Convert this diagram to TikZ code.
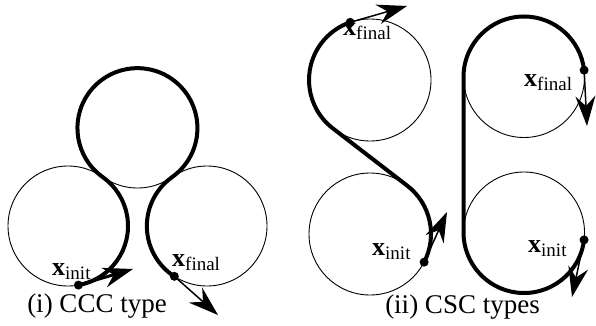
\documentclass[tikz,border=0pt]{standalone}
\usepackage{fontspec}
\setmainfont{Liberation Serif}
\usetikzlibrary{arrows.meta,calc}
\newcommand{\lsub}[1]{\raisebox{-4pt}{\fontsize{19}{19}\selectfont #1}}
\tikzset{
  thincirc/.style={line width=0.9pt},
  thickpath/.style={line width=4pt},
  arr/.style={line width=1.5pt,-{Stealth[length=30pt,width=20pt,inset=10pt]}},
  dotnode/.style={circle,fill=black,inner sep=0pt,minimum size=9pt},
  lbl/.style={font=\fontsize{26}{30}\selectfont,inner sep=0pt,anchor=base west},
  captext/.style={font=\fontsize{27}{32}\selectfont,inner sep=0pt,anchor=base}
}
\begin{document}
\begin{tikzpicture}[x=1pt,y=1pt]
\useasboundingbox (0,0) rectangle (596,325);
% ---------- CCC ----------
\coordinate (cL) at (68,99);
\coordinate (cT) at (137.5,197);
\coordinate (cR) at (207,99);
\draw[thincirc] (cL) circle[radius=60];
\draw[thincirc] (cT) circle[radius=60];
\draw[thincirc] (cR) circle[radius=60];
\coordinate (ci) at ($(cL)+(-80:60)$);
\coordinate (cf) at ($(cR)+(237:60)$);
\draw[thickpath] (ci) arc[start angle=-80,end angle=54.65,radius=60]
  arc[start angle=234.65,end angle=-54.65,radius=60]
  arc[start angle=125.35,end angle=237,radius=60];
\coordinate (cit) at (133,56);
\coordinate (cft) at (218,10);
\node[dotnode] (dci) at (ci) {};
\node[dotnode] (dcf) at (cf) {};
\draw[arr,line width=3pt] (dci.center) -- (cit);
\draw[arr] (dcf.center) -- (cft);
\node[lbl] (lci) at (52,50) {\textbf{x}\lsub{init}};
\node[lbl] (lcf) at (172,59) {\textbf{x}\lsub{final}};
\node[captext] (cap1) at (97,13) {(i) CCC type};
% ---------- CSC 1 ----------
\coordinate (u1) at (370,245);
\coordinate (d1) at (370,91);
\draw[thincirc] (u1) circle[radius=61];
\draw[thincirc] (d1) circle[radius=61];
\coordinate (si1) at ($(d1)+(-27.5:61)$);
\coordinate (sf1) at ($(u1)+(109:61)$);
\coordinate (q1) at ($(u1)+(232.39:61)$);
\draw[thickpath] (si1) arc[start angle=-27.5,end angle=52.39,radius=61]
  -- (q1) arc[start angle=232.39,end angle=109,radius=61];
\coordinate (s1it) at (447,113);
\coordinate (s1ft) at (407,319);
\node[dotnode] (ds1i) at (si1) {};
\node[dotnode] (ds1f) at (sf1) {};
\draw[arr] (ds1i.center) -- (s1it);
\draw[arr] (ds1f.center) -- (s1ft);
\node[lbl] (ls1i) at (372,70) {\textbf{x}\lsub{init}};
\node[lbl] (ls1f) at (343,290) {\textbf{x}\lsub{final}};
% ---------- CSC 2 ----------
\coordinate (u2) at (524,248);
\coordinate (d2) at (524,92.5);
\draw[thincirc] (u2) circle[radius=60.5];
\draw[thincirc] (d2) circle[radius=60.5];
\coordinate (si2) at ($(d2)+(-7:60.5)$);
\coordinate (sf2) at ($(u2)+(6.5:60.5)$);
\coordinate (q2) at ($(u2)+(180:60.5)$);
\draw[thickpath] (si2) arc[start angle=-7,end angle=-180,radius=60.5]
  -- (q2) arc[start angle=180,end angle=6.5,radius=60.5];
\coordinate (s2it) at (572,28);
\coordinate (s2ft) at (587,199);
\node[dotnode] (ds2i) at (si2) {};
\node[dotnode] (ds2f) at (sf2) {};
\draw[arr] (ds2i.center) -- (s2it);
\draw[arr] (ds2f.center) -- (s2ft);
\node[lbl] (ls2i) at (528,73) {\textbf{x}\lsub{init}};
\node[lbl] (ls2f) at (524,239) {\textbf{x}\lsub{final}};
\node[captext] (cap2) at (462.5,12) {(ii) CSC types};
\end{tikzpicture}
\end{document}
